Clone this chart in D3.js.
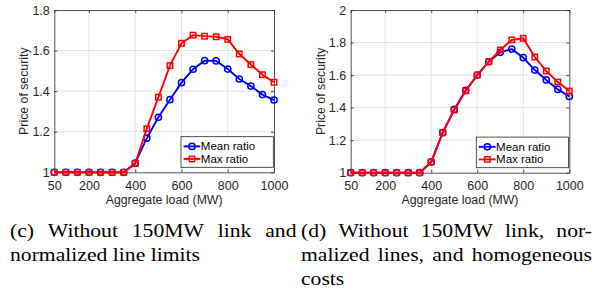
<!DOCTYPE html>
<html>
<head>
<meta charset="utf-8">
<script src="https://cdn.jsdelivr.net/npm/d3@7.9.0/dist/d3.min.js"></script>
<style>
  body { margin: 0; background: #fff; }
  svg { display: block; }
</style>
</head>
<body>
<svg id="fig" width="597" height="293"></svg>
<script>
// aggregate load (MW)
const loads = [50, 100, 150, 200, 250, 300, 350, 400, 450, 500, 550, 600, 650, 700, 750, 800, 850, 900, 950, 1000];
const xTicks = [50, 200, 400, 600, 800, 1000];

// panel (c)
const meanC = [1, 1, 1, 1, 1, 1, 1, 1.045, 1.168, 1.271, 1.358, 1.442, 1.508, 1.550, 1.549, 1.509, 1.460, 1.425, 1.383, 1.356];
const maxC = [1, 1, 1, 1, 1, 1, 1, 1.043, 1.215, 1.370, 1.526, 1.636, 1.676, 1.671, 1.668, 1.655, 1.583, 1.531, 1.481, 1.444];
const yTicksC = [1, 1.2, 1.4, 1.6, 1.8];

// panel (d)
const meanD = [1, 1, 1, 1, 1, 1, 1, 1.066, 1.246, 1.389, 1.506, 1.600, 1.682, 1.740, 1.760, 1.707, 1.631, 1.570, 1.512, 1.469];
const maxD = [1, 1, 1, 1, 1, 1, 1, 1.066, 1.246, 1.386, 1.503, 1.600, 1.682, 1.754, 1.816, 1.826, 1.711, 1.625, 1.557, 1.502];
const yTicksD = [1, 1.2, 1.4, 1.6, 1.8, 2];

const seriesNames = ['Mean ratio', 'Max ratio'];
const blue = '#0000ff', red = '#ff0000';

const svg = d3.select('#fig');
const sans = "'Liberation Sans', Arial, Helvetica, sans-serif";
const serif = "'Liberation Serif', 'Times New Roman', Times, serif";

function panel(box, yDomain, yTicks, mean, max) {
  const x = d3.scaleLinear().domain([50, 1000]).range([box.x0, box.x1]);
  const y = d3.scaleLinear().domain(yDomain).range([box.y1, box.y0]);
  const g = svg.append('g');

  // grid
  g.selectAll('.gx').data(xTicks.slice(1, -1)).join('line')
    .attr('x1', d => x(d)).attr('x2', d => x(d))
    .attr('y1', box.y0).attr('y2', box.y1)
    .attr('stroke', '#e3e3e3').attr('stroke-width', 1);
  g.selectAll('.gy').data(yTicks.slice(1, -1)).join('line')
    .attr('y1', d => y(d)).attr('y2', d => y(d))
    .attr('x1', box.x0).attr('x2', box.x1)
    .attr('stroke', '#e3e3e3').attr('stroke-width', 1);

  // axes (ticks inside, mirrored)
  const xb = d3.axisBottom(x).tickValues(xTicks).tickSizeInner(-3).tickSizeOuter(0).tickPadding(8.5).tickFormat(d3.format('d'));
  const xt = d3.axisTop(x).tickValues(xTicks).tickSizeInner(-3).tickSizeOuter(0).tickFormat('');
  const yl = d3.axisLeft(y).tickValues(yTicks).tickSizeInner(-3).tickSizeOuter(0).tickPadding(4.5).tickFormat(d => d3.format('')(+d.toFixed(1)));
  const yr = d3.axisRight(y).tickValues(yTicks).tickSizeInner(-3).tickSizeOuter(0).tickFormat('');
  [[xb, `translate(0,${box.y1})`], [xt, `translate(0,${box.y0})`], [yl, `translate(${box.x0},0)`], [yr, `translate(${box.x1},0)`]]
    .forEach(([ax, tr]) => {
      const a = g.append('g').attr('transform', tr).call(ax);
      a.select('.domain').attr('stroke', '#262626').attr('stroke-width', 0.8);
      a.selectAll('.tick line').attr('stroke', '#262626').attr('stroke-width', 0.8);
      a.selectAll('text').attr('fill', '#262626').style('font-family', sans).style('font-size', '12.5px');
    });

  g.append('text').attr('x', (box.x0 + box.x1) / 2).attr('y', box.y1 + 31.5)
    .attr('text-anchor', 'middle').style('font-family', sans).style('font-size', '12.3px')
    .attr('fill', '#262626').text('Aggregate load (MW)');
  g.append('text')
    .attr('transform', `translate(${box.x0 - 26},${(box.y0 + box.y1) / 2}) rotate(-90)`)
    .attr('text-anchor', 'middle').style('font-family', sans).style('font-size', '12.3px')
    .attr('fill', '#262626').text('Price of security');

  const line = d3.line().x((d, i) => x(loads[i])).y(d => y(d));

  // mean: circles
  g.append('path').datum(mean).attr('d', line).attr('fill', 'none').attr('stroke', blue).attr('stroke-width', 1.9);
  g.selectAll('.mc').data(mean).join('circle')
    .attr('cx', (d, i) => x(loads[i])).attr('cy', d => y(d)).attr('r', 3.1)
    .attr('fill', 'none').attr('stroke', blue).attr('stroke-width', 1.5);

  // max: squares
  g.append('path').datum(max).attr('d', line).attr('fill', 'none').attr('stroke', red).attr('stroke-width', 1.9);
  g.selectAll('.ms').data(max).join('rect')
    .attr('x', (d, i) => x(loads[i]) - 2.7).attr('y', d => y(d) - 2.7)
    .attr('width', 5.4).attr('height', 5.4)
    .attr('fill', 'none').attr('stroke', red).attr('stroke-width', 1.5);

  // legend
  const lg = g.append('g').attr('transform', `translate(${box.x1 - 93},${box.y1 - 35.6})`);
  lg.append('rect').attr('width', 92.3).attr('height', 30.6)
    .attr('fill', '#fff').attr('stroke', '#262626').attr('stroke-width', 0.8);
  seriesNames.forEach((name, i) => {
    const yy = 9.7 + i * 12.6;
    const c = i === 0 ? blue : red;
    lg.append('line').attr('x1', 2.6).attr('x2', 19.3).attr('y1', yy).attr('y2', yy)
      .attr('stroke', c).attr('stroke-width', 1.9);
    if (i === 0) {
      lg.append('circle').attr('cx', 11).attr('cy', yy).attr('r', 3.1)
        .attr('fill', 'none').attr('stroke', c).attr('stroke-width', 1.5);
    } else {
      lg.append('rect').attr('x', 8.3).attr('y', yy - 2.7).attr('width', 5.4).attr('height', 5.4)
        .attr('fill', 'none').attr('stroke', c).attr('stroke-width', 1.5);
    }
    lg.append('text').attr('x', 19.8).attr('y', yy + 4.1)
      .style('font-family', sans).style('font-size', '11.5px').attr('fill', '#000').text(name);
  });
}

panel({ x0: 54.3, x1: 274, y0: 10, y1: 172.3 }, [1, 1.8], yTicksC, meanC, maxC);
panel({ x0: 350.7, x1: 569.3, y0: 10, y1: 172.7 }, [1, 2], yTicksD, meanD, maxD);

// captions (justified); the horizontal scale is fitted so that
// "normalized line limits" comes out about 190px wide like the source
const capSize = 19;
function measure(t) {
  const n = svg.append('text').style('font-family', serif).style('font-size', capSize + 'px')
    .style('white-space', 'pre').text(t);
  const w = n.node().getComputedTextLength();
  n.remove();
  return w;
}
const capScale = 190 / measure('normalized line limits');
const spaceW = (measure('a b') - measure('ab')) * capScale;

function caption(lines, x0, x1, y0, lh) {
  lines.forEach((ln, i) => {
    const words = ln.text.split(' ');
    const widths = words.map(w => measure(w) * capScale);
    const total = d3.sum(widths);
    const gap = ln.justify && words.length > 1 ? (x1 - x0 - total) / (words.length - 1) : spaceW;
    let cx = x0;
    words.forEach((w, j) => {
      svg.append('text').attr('transform', `translate(${cx},${y0 + i * lh}) scale(${capScale},1)`)
        .style('font-family', serif).style('font-size', capSize + 'px').attr('fill', '#000').text(w);
      cx += widths[j] + gap;
    });
  });
}
caption([
  { text: '(c) Without 150MW link and', justify: true },
  { text: 'normalized line limits', justify: false }
], 10, 296.5, 237, 23.8);
caption([
  { text: '(d) Without 150MW link, nor-', justify: true },
  { text: 'malized lines, and homogeneous', justify: true },
  { text: 'costs', justify: false }
], 301, 592, 237, 23.8);
</script>
</body>
</html>
